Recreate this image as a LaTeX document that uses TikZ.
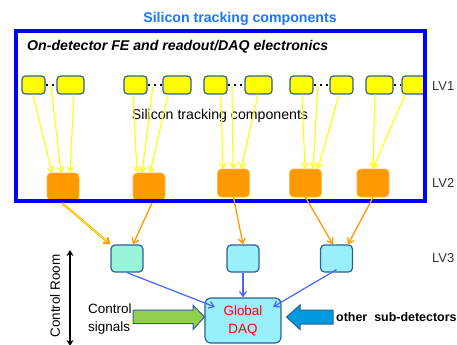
\documentclass[tikz,border=0pt]{standalone}
\usepackage{fontspec}
\setmainfont{Liberation Sans}
\usetikzlibrary{arrows.meta}
\definecolor{frameblue}{HTML}{0000FF}
\definecolor{titleblue}{HTML}{1A75FF}
\definecolor{boxborder}{HTML}{2E6094}
\definecolor{ylw}{HTML}{FFFF00}
\definecolor{orng}{HTML}{FF9900}
\definecolor{aqua}{HTML}{99F5DA}
\definecolor{cyanlt}{HTML}{99F0FA}
\definecolor{arrblue}{HTML}{4466FF}
\definecolor{grn}{HTML}{92D050}
\definecolor{blk}{HTML}{0099DD}
\definecolor{lvgray}{HTML}{333333}
\begin{document}
\begin{tikzpicture}[x=1bp,y=-1bp,
  ybox/.style={draw=boxborder,fill=ylw,line width=1.2bp,rounded corners=3.5bp,minimum height=18bp,inner sep=0pt},
  obox/.style={fill=orng,draw=orng!70!white,line width=0.6bp,rounded corners=4bp,minimum width=32bp,inner sep=0pt},
  lvbox/.style={draw=boxborder,line width=1.2bp,rounded corners=4bp,minimum width=32bp,minimum height=27bp,inner sep=0pt},
  yarr/.style={draw=ylw,line width=1.1bp,-{Straight Barb[length=5bp,width=7bp]}},
  oarr/.style={draw=orng,line width=1.3bp,-{Straight Barb[length=5bp,width=7bp]}},
  barr/.style={draw=arrblue,line width=1.2bp,-{Straight Barb[length=5bp,width=7bp]}},
  dots/.style={draw=black,line width=2.6bp,dash pattern=on 2.6bp off 3.4bp},
  lv/.style={anchor=west,inner sep=0pt,text=lvgray,font=\fontsize{13}{15}\selectfont},
  txt/.style={font=\fontsize{14.2}{16}\selectfont,inner sep=0pt}]
\useasboundingbox (0,0) rectangle (457,344);

% title texts
\node[txt,text=titleblue,font=\bfseries\fontsize{14.2}{16}\selectfont] (title) at (240,19) {Silicon tracking components};
\node[txt,anchor=west,font=\bfseries\itshape\fontsize{14.2}{16}\selectfont] (fe) at (27,47) {On-detector FE and readout/DAQ electronics};

% yellow boxes
\node[ybox,minimum width=23bp] (y1) at (33.5,85) {};
\node[ybox,minimum width=27bp] (y2) at (70.5,85) {};
\node[ybox,minimum width=23bp] (y3) at (135.5,85) {};
\node[ybox,minimum width=28bp] (y4) at (177,85) {};
\node[ybox,minimum width=23bp] (y5) at (215.5,85) {};
\node[ybox,minimum width=27bp] (y6) at (258.5,85) {};
\node[ybox,minimum width=23bp] (y7) at (301.5,85) {};
\node[ybox,minimum width=23bp] (y8) at (341.5,85) {};
\node[ybox,minimum width=27bp] (y9) at (379.5,85) {};
\node[ybox,minimum width=24bp] (y10) at (414,85) {};
\draw[dots] (y1.east) -- (y2.west);
\draw[dots] (y3.east) -- (y4.west);
\draw[dots] (y5.east) -- (y6.west);
\draw[dots] (y7.east) -- (y8.west);
\draw[dots] (y9.east) -- (y10.west);

% mid label
\node[txt] (sil) at (220,116) {Silicon tracking components};

% orange boxes (LV2)
\node[obox,minimum height=27bp] (o1) at (63,186.5) {};
\node[obox,minimum height=27bp] (o2) at (149,186.5) {};
\node[obox,minimum height=28bp] (o3) at (233.5,183) {};
\node[obox,minimum height=28bp] (o4) at (305.5,183) {};
\node[obox,minimum height=28bp] (o5) at (373,183) {};

% starting points of yellow arrows
\coordinate (d1) at (51,86);
\coordinate (d2) at (153,86);
\coordinate (d3) at (232,86);
\coordinate (d4) at (318,86);

% yellow arrows
\draw[yarr] (y1.south -| 33,0) -- (o1.north -| 52,0);
\draw[yarr] (d1) -- (o1.north -| 61,0);
\draw[yarr] (y2.south -| 74,0) -- (o1.north -| 70,0);
\draw[yarr] (y3.south -| 133,0) -- (o2.north -| 137,0);
\draw[yarr] (d2) -- (o2.north -| 142,0);
\draw[yarr] (y4.south -| 168,0) -- (o2.north -| 150,0);
\draw[yarr] (y5.south -| 221,0) -- (o3.north -| 223,0);
\draw[yarr] (d3) -- (o3.north -| 233,0);
\draw[yarr] (y6.south -| 258,0) -- (o3.north -| 241,0);
\draw[yarr] (y7.south -| 302,0) -- (o4.north -| 305,0);
\draw[yarr] (d4) -- (o4.north -| 313,0);
\draw[yarr] (y8.south -| 339,0) -- (o4.north -| 318,0);
\draw[yarr] (y9.south -| 375,0) -- (o5.north -| 373,0);
\draw[yarr] (y10.south -| 405,0) -- (o5.north -| 373,0);

% frame
\draw[frameblue,line width=4bp] (16,31) rectangle (425,201);

% LV labels
\node[lv] (lv1) at (432,86) {LV1};
\node[lv] (lv2) at (432,183) {LV2};
\node[lv] (lv3) at (432,258) {LV3};

% LV3 boxes
\node[lvbox,fill=aqua] (l1) at (127,258.5) {};
\node[lvbox,fill=cyanlt] (l2) at (243,258.5) {};
\node[lvbox,fill=cyanlt] (l3) at (336.5,258.5) {};

% orange arrows
\coordinate (o1s) at (62,203);
\coordinate (o2s) at (152,203);
\draw[oarr,line width=2bp] (o1s) -- (l1.north west);
\draw[draw=ylw,line width=0.7bp,shorten >=4bp] (o1s) -- (l1.north west);
\draw[oarr] (o2s) -- (l1.north -| 133,0);
\draw[oarr] (o3.south) -- (l2.north);
\draw[oarr] (o4.south) -- (l3.north -| 333,0);
\draw[oarr] (o5.south) -- (l3.north -| 348,0);

% Global DAQ
\node[draw=boxborder,fill=cyanlt,line width=1.2bp,rounded corners=6bp,minimum width=76bp,minimum height=45bp,inner sep=0pt,align=center,text=red,font=\fontsize{13.5}{18}\selectfont] (daq) at (243,320.5) {Global\\DAQ};

% blue arrows
\draw[barr] (l1.south) -- (215,307);
\draw[barr] (l2.south) -- (daq.north);
\draw[barr] (l3.south) ++(0,-3) -- (273,307);

% block arrows
\draw[draw=boxborder,fill=grn,line width=1bp] (133,310) -- (193,310) -- (193,305) -- (204.5,317) -- (193,329.5) -- (193,323.5) -- (133,323.5) -- cycle;
\draw[draw=boxborder,fill=blk,line width=1bp] (333,310) -- (300,310) -- (300,305) -- (286.5,317) -- (300,329.5) -- (300,324) -- (333,324) -- cycle;

% side texts
\node[txt,anchor=west,align=left,font=\fontsize{13.5}{18}\selectfont] (ctl) at (88,319) {Control\\signals};
\node[txt,anchor=west,font=\bfseries\fontsize{12.5}{14}\selectfont] (oth) at (336,317) {other\ \ sub-detectors};
\node[txt,rotate=90,font=\fontsize{13.5}{16}\selectfont] (cr) at (55,296) {Control Room};
\coordinate (crt) at (70,250);
\coordinate (crb) at (70,346);
\draw[line width=1.5bp,{Stealth[length=6bp,width=7bp]}-{Stealth[length=6bp,width=7bp]}] (crt) -- (crb);
\end{tikzpicture}
\end{document}
